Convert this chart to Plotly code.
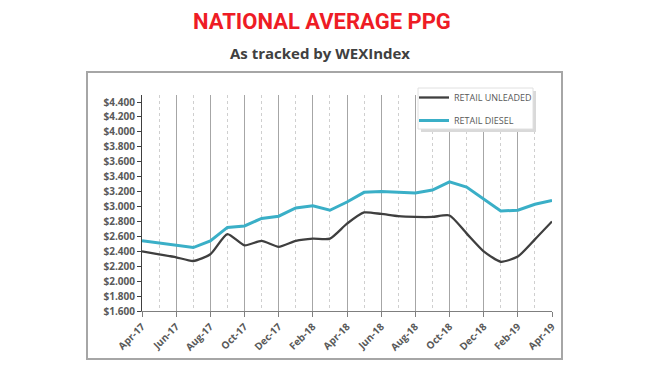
import plotly.graph_objects as go

months = ["Apr-17", "May-17", "Jun-17", "Jul-17", "Aug-17", "Sep-17", "Oct-17", "Nov-17",
          "Dec-17", "Jan-18", "Feb-18", "Mar-18", "Apr-18", "May-18", "Jun-18", "Jul-18",
          "Aug-18", "Sep-18", "Oct-18", "Nov-18", "Dec-18", "Jan-19", "Feb-19", "Mar-19", "Apr-19"]

unleaded = [2.40, 2.36, 2.32, 2.27, 2.36, 2.63, 2.48, 2.54, 2.46, 2.54, 2.57, 2.57,
            2.77, 2.92, 2.90, 2.87, 2.86, 2.86, 2.88, 2.64, 2.40, 2.26, 2.33, 2.56, 2.80]

diesel = [2.54, 2.51, 2.48, 2.45, 2.54, 2.72, 2.74, 2.84, 2.87, 2.98, 3.01, 2.95,
          3.06, 3.19, 3.20, 3.19, 3.18, 3.22, 3.33, 3.26, 3.10, 2.94, 2.95, 3.03, 3.08]

y_ticks = [1.6, 1.8, 2.0, 2.2, 2.4, 2.6, 2.8, 3.0, 3.2, 3.4, 3.6, 3.8, 4.0, 4.2, 4.4]
y_text = ["$%.3f" % v for v in y_ticks]

x = list(range(len(months)))
label_idx = x[::2]
label_txt = [months[i] for i in label_idx]

L, R, T, B = 142, 98, 95, 55
PW, PH = 650 - L - R, 366 - T - B


def px(v):
    return (v - L) / PW


def py(v):
    return (366 - B - v) / PH


LAB = "'Open Sans', sans-serif"
fig = go.Figure()
fig.add_trace(go.Scatter(x=x, y=unleaded, mode="lines", name="RETAIL UNLEADED",
                         legendgroup="a",
                         line=dict(color="#3f3f3f", width=2.3, shape="spline", smoothing=0.6)))
fig.add_trace(go.Scatter(x=x, y=diesel, mode="lines", name="RETAIL DIESEL",
                         legendgroup="b",
                         line=dict(color="#3aafc7", width=3)))

fig.update_layout(
    width=650, height=366,
    margin=dict(l=L, r=R, t=T, b=B),
    paper_bgcolor="white", plot_bgcolor="white",
    showlegend=True,
    legend=dict(x=px(414), y=py(83), xanchor="left", yanchor="top",
                bgcolor="rgba(0,0,0,0)", borderwidth=0,
                font=dict(family=LAB, size=9, color="#595959"),
                tracegroupgap=4, itemwidth=30),
    xaxis=dict(range=[0, 24], tickmode="array", tickvals=label_idx, ticktext=label_txt,
               tickangle=-45, showgrid=True, gridcolor="#a6a6a6", gridwidth=1,
               minor=dict(dtick=1, tick0=0, showgrid=True, gridcolor="#cfcfcf",
                          griddash="dot", gridwidth=1),
               showline=True, linecolor="#7f7f7f", linewidth=1,
               ticks="outside", ticklen=5, tickcolor="#7f7f7f",
               tickfont=dict(family=LAB, size=10, color="#595959", weight="bold"),
               zeroline=False, automargin=False),
    yaxis=dict(range=[1.6, 4.494], tickmode="array", tickvals=y_ticks, ticktext=y_text,
               showgrid=False,
               showline=True, linecolor="#404040", linewidth=1,
               ticks="outside", ticklen=4, tickcolor="#404040",
               tickfont=dict(family=LAB, size=10, color="#595959", weight="bold"),
               zeroline=False, automargin=False),
)

# outer chart border
fig.add_shape(type="rect", xref="paper", yref="paper",
              x0=px(87), x1=px(562), y0=py(359), y1=py(72),
              line=dict(color="#a6a6a6", width=2), fillcolor="rgba(0,0,0,0)", layer="below")
# legend shadow + box
fig.add_shape(type="rect", xref="paper", yref="paper",
              x0=px(421), x1=px(536), y0=py(132), y1=py(91),
              line=dict(width=0), fillcolor="#d9d9d9", layer="above")
fig.add_shape(type="rect", xref="paper", yref="paper",
              x0=px(418), x1=px(533), y0=py(129), y1=py(88),
              line=dict(color="#e0e0e0", width=1), fillcolor="white", layer="above")

fig.add_annotation(text="NATIONAL AVERAGE PPG", xref="paper", yref="paper",
                   x=px(322), y=py(22), xanchor="center", yanchor="middle",
                   showarrow=False,
                   font=dict(family="Roboto, sans-serif", size=22, color="#ee1c25",
                             weight="bold"))
fig.add_annotation(text="As tracked by WEXIndex", xref="paper", yref="paper",
                   x=px(320), y=py(53), xanchor="center", yanchor="middle",
                   showarrow=False,
                   font=dict(family="'Open Sans', sans-serif", size=15, color="#404040",
                             weight="bold"))

fig.write_html("out.html", config={"displayModeBar": False},
               post_script="document.body.style.margin='0';")
